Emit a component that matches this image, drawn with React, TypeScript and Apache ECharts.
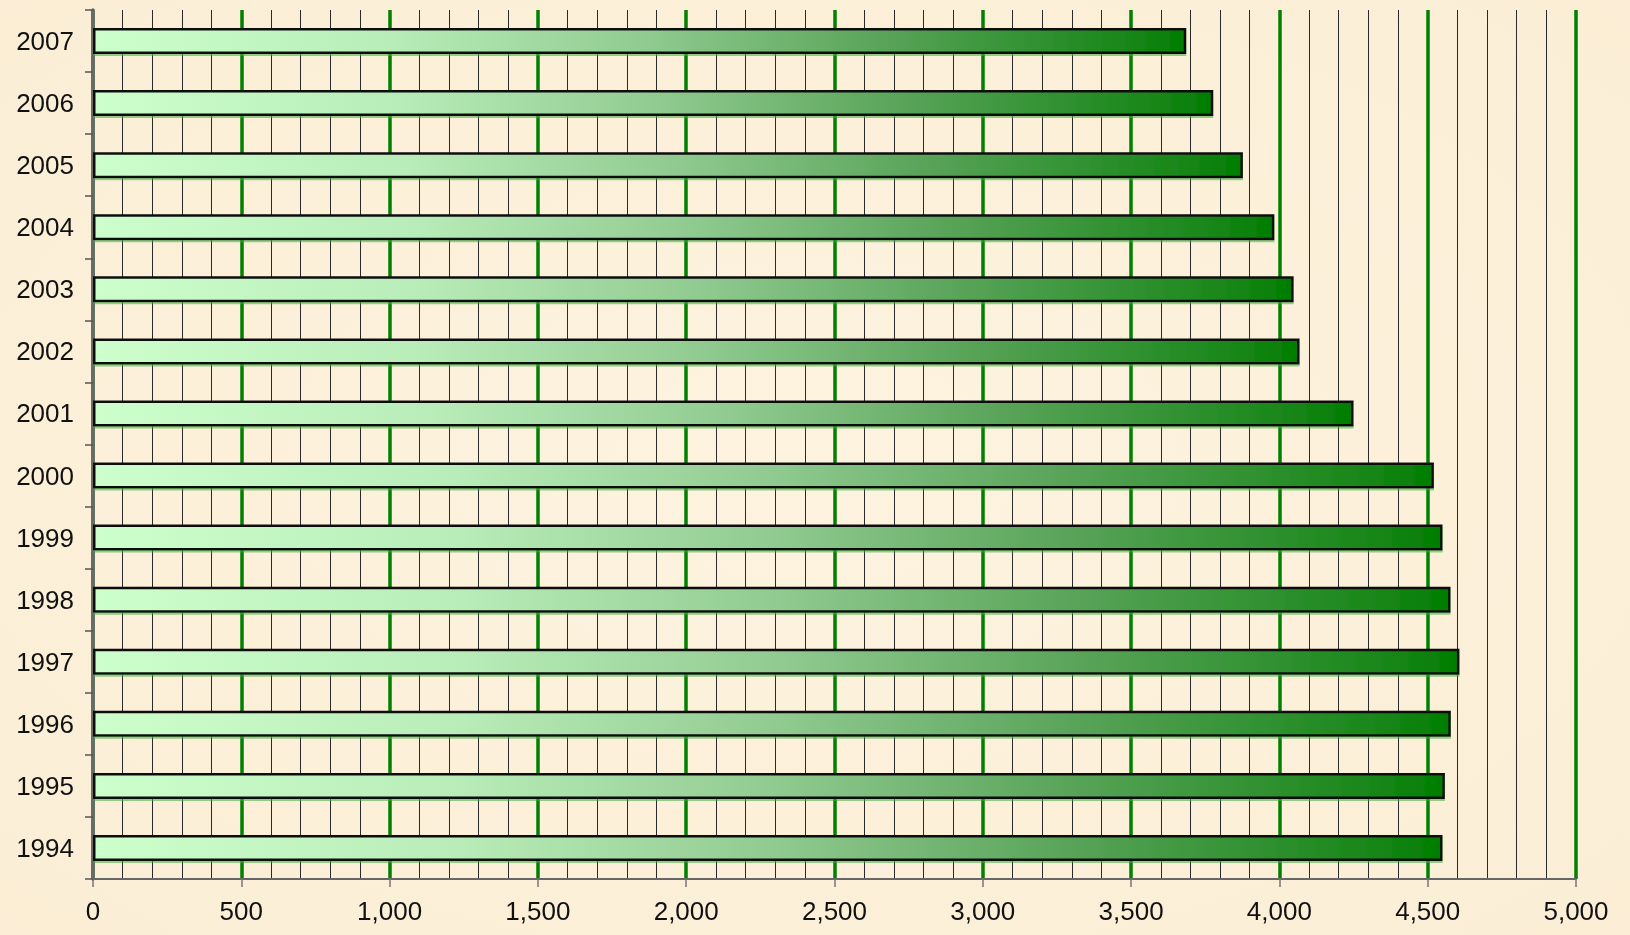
import React, { useEffect, useRef } from "react";
import * as echarts from "echarts";

const years = ["1994", "1995", "1996", "1997", "1998", "1999", "2000", "2001", "2002", "2003", "2004", "2005", "2006", "2007"];
const values = [4550, 4558, 4578, 4607, 4577, 4550, 4521, 4250, 4068, 4048, 3983, 3877, 3777, 3686];
const xTicks = [0, 500, 1000, 1500, 2000, 2500, 3000, 3500, 4000, 4500, 5000];

export default function App() {
  const ref = useRef<HTMLDivElement>(null);
  useEffect(() => {
    const chart = echarts.init(ref.current!, undefined, { renderer: "svg" });
    const barGradient = new echarts.graphic.LinearGradient(0, 0, 1, 0, [
      { offset: 0, color: "#ccffcc" },
      { offset: 0.27, color: "#b8ecb8" },
      { offset: 0.49, color: "#94cd94" },
      { offset: 0.72, color: "#5aa45a" },
      { offset: 0.95, color: "#188618" },
      { offset: 1, color: "#007d00" },
    ]);
    chart.setOption({
      animation: false,
      backgroundColor: new echarts.graphic.RadialGradient(0.5, 0.5, 0.8, [
        { offset: 0, color: "#fdf3df" },
        { offset: 1, color: "#fbedd4" },
      ]),
      grid: { left: 93, right: 54, top: 10, bottom: 56, containLabel: false },
      xAxis: {
        type: "value",
        min: xTicks[0],
        max: xTicks[xTicks.length - 1],
        interval: 500,
        axisLine: { show: true, onZero: false, lineStyle: { color: "#666", width: 2 } },
        axisTick: { show: true, length: 8, lineStyle: { color: "#777", width: 1.5 } },
        axisLabel: {
          color: "#111",
          fontSize: 26,
          fontFamily: "Liberation Sans, Arial, sans-serif",
          margin: 19,
          formatter: (v: number) => v.toLocaleString("en-US"),
        },
        splitLine: { show: true, lineStyle: { color: "#008000", width: 3.5 } },
        minorTick: { show: false, splitNumber: 5 },
        minorSplitLine: { show: true, lineStyle: { color: "#2a2a2a", width: 1 } },
      },
      yAxis: {
        type: "category",
        data: years,
        z: 1,
        axisLine: { show: true, lineStyle: { color: "#6a6a6a", width: 3.6 } },
        axisTick: { show: true, length: 8, lineStyle: { color: "#555", width: 1.5 } },
        axisLabel: {
          color: "#111",
          fontSize: 26,
          fontFamily: "Liberation Sans, Arial, sans-serif",
          margin: 19,
        },
        splitLine: { show: false },
      },
      series: [
        {
          type: "bar",
          data: values,
          barWidth: 26,
          z: 2,
          itemStyle: {
            color: barGradient,
            borderColor: "#111",
            borderWidth: 2.5,
            shadowColor: "rgba(60,170,60,0.55)",
            shadowOffsetY: 2,
            shadowOffsetX: 0,
            shadowBlur: 0,
          },
        },
      ],
    });
    return () => chart.dispose();
  }, []);
  return (
    <div
      ref={ref}
      style={{ position: "fixed", left: 0, top: 0, width: 1630, height: 935 }}
    />
  );
}
